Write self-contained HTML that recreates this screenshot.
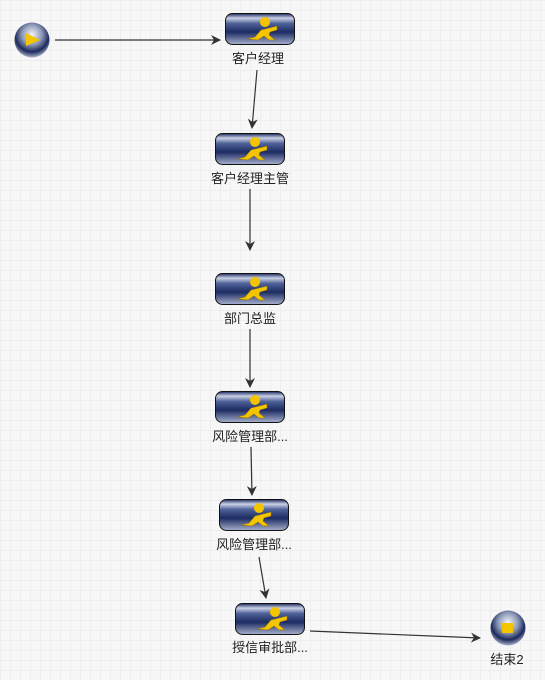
<!DOCTYPE html>
<html><head><meta charset="utf-8"><style>
html,body{margin:0;padding:0;}
body{width:545px;height:680px;overflow:hidden;background-color:#f7f7f7;
background-image:linear-gradient(to right,#eeeeee 1px,transparent 1px),linear-gradient(to bottom,#eeeeee 1px,transparent 1px);
background-size:10px 10px;}
svg{position:absolute;left:0;top:0;}
text{font-family:"Liberation Sans","Noto Sans CJK SC",sans-serif;font-size:13px;fill:#222;text-anchor:middle;}
</style></head><body>
<svg width="545" height="680" viewBox="0 0 545 680">
<defs>
<linearGradient id="bx" x1="0" y1="0" x2="0" y2="1">
<stop offset="0" stop-color="#1b2a60"/><stop offset="0.15" stop-color="#c9d0e4"/><stop offset="0.32" stop-color="#4f6299"/><stop offset="0.6" stop-color="#1c2b62"/><stop offset="1" stop-color="#a8b1cc"/>
</linearGradient>
<radialGradient id="ball" cx="0.5" cy="0.35" r="0.65">
<stop offset="0" stop-color="#f4f6fa"/><stop offset="0.45" stop-color="#8a96b4"/><stop offset="0.75" stop-color="#1c2a5c"/><stop offset="1" stop-color="#a9b0c6"/>
</radialGradient>
<marker id="ar" viewBox="0 0 10 10" refX="9" refY="5" markerWidth="10" markerHeight="10" markerUnits="userSpaceOnUse" orient="auto">
<path d="M0,0 L10,5 L0,10 L3,5 Z" fill="#333"/>
</marker>
<g id="node">
<rect x="0.5" y="0.5" width="69" height="31" rx="7" fill="url(#bx)" stroke="#111"/>
<circle cx="40" cy="9" r="5" fill="#f5c400"/>
<path d="M22,26 L30,24 L36,17 L44,15 L52,13 L52,17 L45,19 L44,22 L50,27 L44,27 L39,23 L33,27 Z" fill="#f5c400" stroke="#8a6a00" stroke-width="0.5"/>
</g>
</defs>
<g stroke="#333" stroke-width="1.2" fill="none" marker-end="url(#ar)">
<line x1="55" y1="40" x2="220" y2="40"/>
<line x1="257" y1="70" x2="252" y2="128"/>
<line x1="250" y1="189" x2="250" y2="250"/>
<line x1="250" y1="329" x2="250" y2="387"/>
<line x1="251" y1="447" x2="252" y2="495"/>
<line x1="259" y1="557" x2="266" y2="598"/>
<line x1="310" y1="631" x2="480" y2="638"/>
</g>
<circle cx="32" cy="40" r="17.5" fill="url(#ball)"/>
<path d="M26,33 L40,40 L26,46 Z" fill="#f5c400"/>
<circle cx="508" cy="628" r="17.5" fill="url(#ball)"/>
<rect x="502" y="623" width="11" height="10" fill="#f5c400"/>
<use href="#node" x="225" y="13"/><text x="258" y="63">客户经理</text>
<use href="#node" x="215" y="133"/><text x="250" y="183">客户经理主管</text>
<use href="#node" x="215" y="273"/><text x="250" y="323">部门总监</text>
<use href="#node" x="215" y="391"/><text x="250" y="441">风险管理部...</text>
<use href="#node" x="219" y="499"/><text x="254" y="549">风险管理部...</text>
<use href="#node" x="235" y="603"/><text x="270" y="652">授信审批部...</text>
<text x="507" y="664">结束2</text>
</svg>
</body></html>
